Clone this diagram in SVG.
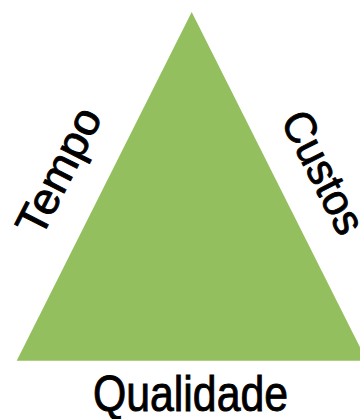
<svg xmlns="http://www.w3.org/2000/svg" width="360" height="419" viewBox="0 0 360 419">
<style>
.lbl{font-family:"Liberation Sans",Arial,sans-serif;fill:#000;stroke:#000;stroke-width:0.9;text-anchor:middle}
.tri{fill:#94BF5E}
</style>
<rect width="360" height="419" fill="#fff"/>
<g id="triangle">
<polygon class="tri" points="191.7,12 16.7,360.7 366.7,360.7"/>
</g>
<g id="tempo">
<text class="lbl" x="72" y="178" font-size="44" textLength="137" lengthAdjust="spacingAndGlyphs" transform="rotate(-63 72 178)">Tempo</text>
</g>
<g id="custos">
<text class="lbl" x="310" y="179" font-size="44" textLength="132" lengthAdjust="spacingAndGlyphs" transform="rotate(63 310 179)">Custos</text>
</g>
<g id="qualidade">
<text class="lbl" x="190.5" y="411" font-size="50" textLength="195" lengthAdjust="spacingAndGlyphs">Qualidade</text>
</g>
<g id="connectors"></g>
</svg>
